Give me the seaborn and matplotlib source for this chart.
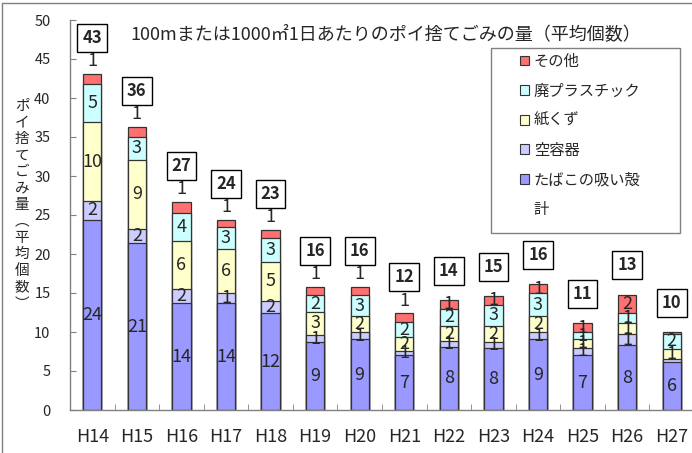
import matplotlib
matplotlib.use("Agg")
import matplotlib.pyplot as plt
from matplotlib.patches import Patch, Rectangle
from matplotlib.lines import Line2D
import seaborn as sns
import numpy as np

years = ["H14", "H15", "H16", "H17", "H18", "H19", "H20",
         "H21", "H22", "H23", "H24", "H25", "H26", "H27"]
tobacco = [24.4, 21.4, 13.7, 13.7, 12.4, 8.7, 9.1, 7.0, 8.1, 8.0, 9.1, 7.0, 8.3, 6.2]
containers = [2.4, 1.8, 1.8, 1.3, 1.6, 0.9, 0.9, 0.6, 0.7, 0.7, 0.9, 1.0, 1.4, 0.4]
paper = [10.1, 8.9, 6.2, 5.7, 5.0, 3.0, 2.0, 1.7, 2.0, 2.1, 2.0, 1.1, 1.4, 1.2]
plastic = [4.9, 2.9, 3.6, 2.7, 3.1, 2.1, 2.7, 2.0, 2.2, 2.7, 3.0, 0.9, 1.3, 2.0]
other = [1.3, 1.3, 1.4, 1.0, 1.0, 1.1, 1.1, 1.1, 1.1, 1.1, 1.1, 1.1, 2.4, 0.2]
totals = [43, 36, 27, 24, 23, 16, 16, 12, 14, 15, 16, 11, 13, 10]

names = ["たばこの吸い殻", "空容器", "紙くず", "廃プラスチック", "その他"]
colors = ["#9999FF", "#CCCCFF", "#FFFFCC", "#CCFFFF", "#FF7070"]
title = "100mまたは1000㎡1日あたりのポイ捨てごみの量（平均個数）"
ylabel = "ポイ捨てごみ量︵平均個数︶"

sns.set_style("white")
plt.rcParams["font.family"] = ["Noto Sans CJK JP", "DejaVu Sans"]

series = [tobacco, containers, paper, plastic, other]
stack = np.cumsum(np.array(series), axis=0)

W, H = 692, 453
fig = plt.figure(figsize=(W / 100, H / 100), dpi=100)
ax = fig.add_axes([70 / W, 43 / H, 624 / W, 390 / H])

# stacked bars: draw cumulative heights from the top series down
for k in range(len(series) - 1, -1, -1):
    sns.barplot(x=years, y=stack[k], color=colors[k], width=0.41,
                edgecolor="#333333", linewidth=0.9, saturation=1,
                errorbar=None, ax=ax)

for i in range(len(years)):
    for k in range(len(series)):
        v = series[k][i]
        n = int(v + 0.5)
        if n == 0:
            continue
        if k == len(series) - 1 and i < 8:
            ax.annotate(str(n), (i, stack[k][i]), xytext=(0, 9),
                        textcoords="offset points", ha="center", va="center",
                        fontsize=13)
        else:
            ax.text(i, stack[k][i] - v / 2, str(n), ha="center", va="center",
                    fontsize=13)
    off = 26 if i < 8 else 21
    ax.annotate(str(totals[i]), (i, stack[-1][i]), xytext=(0, off),
                textcoords="offset points", ha="center", va="center",
                fontsize=12, fontweight="bold",
                bbox=dict(boxstyle="square,pad=0.3", fc="white", ec="black", lw=1))

ax.set_xlim(-0.5, len(years) - 0.5)
ax.set_ylim(0, 50)
ax.set_yticks(np.arange(0, 51, 5))
ax.set_xticks(np.arange(-0.5, len(years), 1), minor=True)
ax.tick_params(axis="y", direction="in", length=4, color="#808080",
               labelsize=10.5, pad=14, left=True)
ax.tick_params(axis="x", which="major", length=0, labelsize=13, pad=13)
ax.tick_params(axis="x", which="minor", direction="in", length=4,
               color="#808080", bottom=True)
ax.set_xlabel("")
ax.set_ylabel("")
for side in ["top", "right"]:
    ax.spines[side].set_visible(False)
for side in ["left", "bottom"]:
    ax.spines[side].set_color("#808080")
    ax.spines[side].set_linewidth(1)

fig.text(130 / W, 1 - 34 / H, title, ha="left", va="center", fontsize=13)
fig.text(22 / W, 1 - 205 / H, "\n".join(ylabel), ha="center", va="center",
         fontsize=10.5, linespacing=1.22)

# legend box
fig.patches.append(Rectangle((491 / W, 1 - 233 / H), 189 / W, 185 / H,
                             transform=fig.transFigure, fc="white",
                             ec="#808080", lw=1))
handles = [Patch(fc=colors[k], ec="#333333", lw=0.8) for k in range(len(series) - 1, -1, -1)]
handles.append(Patch(fc="none", ec="none"))
labels = names[::-1] + ["計"]
fig.legend(handles, labels, loc="upper left", bbox_to_anchor=(520 / W, 1 - 53 / H),
           frameon=False, fontsize=11, handlelength=0.6, handleheight=0.6,
           handletextpad=0.3, labelspacing=0.82, borderaxespad=0, borderpad=0)

# outer frame
fig.add_artist(Line2D([2 / W, 2 / W], [0, 1 - 3 / H], transform=fig.transFigure,
                      color="#808080", lw=1))
fig.add_artist(Line2D([2 / W, 1], [1 - 3 / H, 1 - 3 / H], transform=fig.transFigure,
                      color="#808080", lw=1))

fig.savefig("out.png", dpi=100)
